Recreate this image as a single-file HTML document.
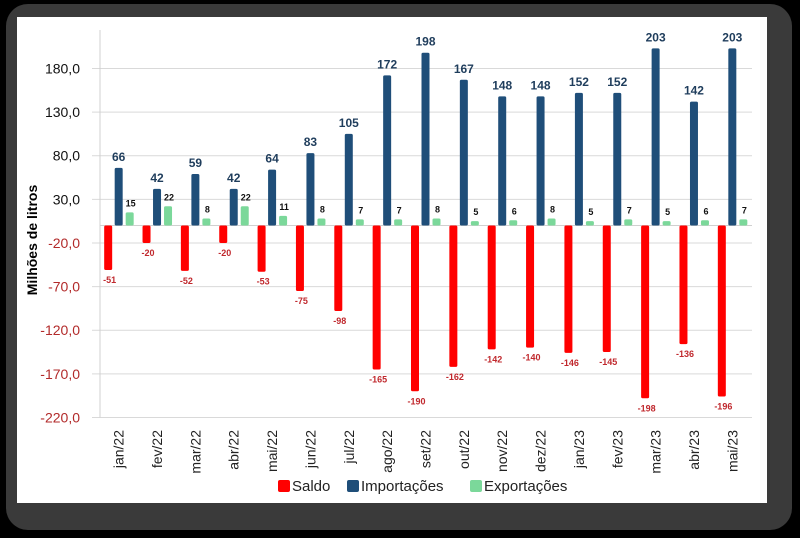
<!DOCTYPE html>
<html><head><meta charset="utf-8"><style>
body{margin:0;background:#000;}
svg{display:block;font-family:"Liberation Sans",sans-serif;}
</style></head><body>
<svg id="c" width="800" height="538">
<rect x="0" y="0" width="800" height="538" fill="#000"/>
<rect x="6" y="4" width="786" height="526" rx="22" fill="#3a3a3a"/>
<rect x="17" y="17" width="750" height="486" fill="#fff"/>
<g id="grid"></g><g id="marks"></g><g id="labels"></g>
<text transform="translate(37,240) rotate(-90)" text-anchor="middle" font-size="14" font-weight="bold" fill="#000">Milhões de litros</text>
<g>
<rect x="278" y="480" width="12" height="12" rx="2" fill="#ff0000"/>
<text x="292" y="491" font-size="15" fill="#222">Saldo</text>
<rect x="347" y="480" width="12" height="12" rx="2" fill="#1f4e79"/>
<text x="361" y="491" font-size="15" fill="#222">Importações</text>
<rect x="470" y="480" width="12" height="12" rx="2" fill="#7bd89a"/>
<text x="484" y="491" font-size="15" fill="#222">Exportações</text>
</g>
</svg>
<script>
const categories=["jan/22","fev/22","mar/22","abr/22","mai/22","jun/22","jul/22","ago/22","set/22","out/22","nov/22","dez/22","jan/23","fev/23","mar/23","abr/23","mai/23"];
const saldo=[-51,-20,-52,-20,-53,-75,-98,-165,-190,-162,-142,-140,-146,-145,-198,-136,-196];
const importacoes=[66,42,59,42,64,83,105,172,198,167,148,148,152,152,203,142,203];
const exportacoes=[15,22,8,22,11,8,7,7,8,5,6,8,5,7,5,6,7];
const yTicks=[180,130,80,30,-20,-70,-120,-170,-220];
const tickLabels=["180,0","130,0","80,0","30,0","-20,0","-70,0","-120,0","-170,0","-220,0"];

const NS="http://www.w3.org/2000/svg";
const x0=100,x1=752,band=(x1-x0)/categories.length;
const y=v=>225.5-v*0.8725;
const cx=i=>x0+band*(i+0.5)-0.5;
function mk(tag,attrs,parent,txt){const e=document.createElementNS(NS,tag);for(const k in attrs)e.setAttribute(k,attrs[k]);if(txt!==undefined)e.textContent=txt;document.getElementById(parent).appendChild(e);return e;}

yTicks.forEach((t,i)=>{
  const g=mk('line',{x1:x0-8,x2:x1,y1:y(t),y2:y(t),stroke:'#d9d9d9','stroke-width':1},'grid');
  
  
  const l=mk('text',{x:80,y:y(t)+5,'text-anchor':'end','font-size':14,fill:t<0?'#b22a2a':'#111'},'labels',tickLabels[i]);
  
  
});
const ax=mk('line',{x1:x0,x2:x0,y1:30,y2:y(-220),stroke:'#d0d0d0','stroke-width':1},'grid');


const zl=mk('line',{x1:x0,x2:x1,y1:y(0),y2:y(0),stroke:'#d0d0d0','stroke-width':1},'grid');



categories.forEach((c,i)=>{
  const m=cx(i),w=8;
  const r=mk('rect',{x:m-10.5-w/2,y:y(0),width:w,height:y(saldo[i])-y(0),rx:1.5,fill:'#ff0000'},'marks');
  
  
  const b=mk('rect',{x:m-w/2,y:y(importacoes[i]),width:w,height:y(0)-y(importacoes[i]),rx:1.5,fill:'#1f4e79'},'marks');
  
  
  const g=mk('rect',{x:m+11-w/2,y:y(exportacoes[i]),width:w,height:y(0)-y(exportacoes[i]),rx:1.5,fill:'#7bd89a'},'marks');
  
  
  const t1=mk('text',{x:m,y:y(importacoes[i])-7,'text-anchor':'middle','font-size':12,'font-weight':'bold',fill:'#1f3d5c'},'labels',importacoes[i]);
  
  
  const t2=mk('text',{x:m+12,y:y(exportacoes[i])-6,'text-anchor':'middle','font-size':9,'font-weight':'bold',fill:'#111'},'labels',exportacoes[i]);
  
  
  const t3=mk('text',{x:m-9,y:y(saldo[i])+13,'text-anchor':'middle','font-size':9,'font-weight':'bold',fill:'#c0282d'},'labels',saldo[i]);
  
  
  const xl=mk('text',{transform:`translate(${m+5},430) rotate(-90)`,'text-anchor':'end','font-size':14,fill:'#222'},'labels',c);
  
  
});
</script>
</body></html>
